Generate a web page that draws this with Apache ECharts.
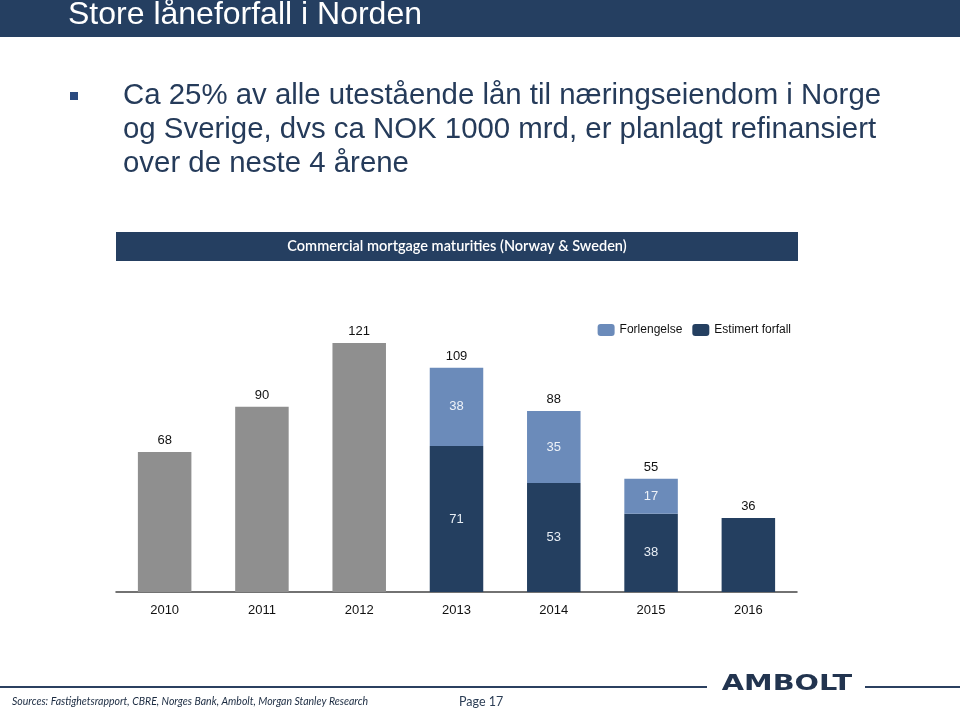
<!DOCTYPE html>
<html><head><meta charset="utf-8">
<script src="https://cdn.jsdelivr.net/npm/echarts@6/dist/echarts.min.js"></script>
<style>html,body{margin:0;padding:0;background:#fff}#c{width:960px;height:712px}</style>
</head><body><div id="c"></div>
<script>
const categories = ['2010','2011','2012','2013','2014','2015','2016'];
const historic = [68, 90, 121, null, null, null, null];
const estimertForfall = [null, null, null, 71, 53, 38, 36];
const forlengelse = [null, null, null, 38, 35, 17, null];
const totals = [68, 90, 121, 109, 88, 55, 36];

const navy = '#253f61';
const chart = echarts.init(document.getElementById('c'));
const F = 'Arial, "Liberation Sans", sans-serif';
chart.setOption({
  animation: false,
  backgroundColor: '#fff',
  legend: {
    top: 319, right: 164, itemWidth: 17, itemHeight: 12, itemGap: 10,
    textStyle: {fontFamily: F, fontSize: 12, color: '#111'},
    data: ['Forlengelse', 'Estimert forfall']
  },
  grid: {left: 116, right: 163, top: 304, bottom: 120},
  xAxis: {
    type: 'category', data: categories,
    axisLine: {lineStyle: {color: '#444', width: 1.5}},
    axisTick: {show: false},
    axisLabel: {fontFamily: F, fontSize: 13, color: '#111', margin: 12}
  },
  yAxis: {type: 'value', min: 0, max: 140, show: false, splitLine: {show: false}},
  series: [
    {name: 'Historisk', type: 'bar', stack: 's', barWidth: '55%', data: historic,
     itemStyle: {color: '#8f8f8f'}},
    {name: 'Estimert forfall', type: 'bar', stack: 's', data: estimertForfall,
     itemStyle: {color: '#243f60'},
     label: {show: true, position: 'inside', fontFamily: F, fontSize: 13, color: '#e8eef5',
       formatter: p => (p.dataIndex === 6 ? '' : p.value)}},
    {name: 'Forlengelse', type: 'bar', stack: 's', data: forlengelse,
     itemStyle: {color: '#6b8bba'},
     label: {show: true, position: 'inside', fontFamily: F, fontSize: 13, color: '#eef2f8'}},
    {name: 'Total', type: 'bar', stack: 's', data: totals.map(() => 0),
     itemStyle: {color: 'transparent'},
     label: {show: true, position: 'top', distance: 5, fontFamily: F, fontSize: 13, color: '#111',
       formatter: p => totals[p.dataIndex]}}
  ],
  graphic: [
    {type: 'rect', left: 0, top: 0, shape: {width: 960, height: 37}, style: {fill: navy}},
    {type: 'text', x: 68, y: 15, style: {text: 'Store låneforfall i Norden', fill: '#fff', font: '32px Arial, "Liberation Sans", sans-serif', verticalAlign: 'middle'}},
    {type: 'rect', left: 70, top: 92, shape: {width: 8, height: 8}, style: {fill: '#2a4a7f'}},
    {type: 'text', x: 123, y: 79, style: {text: 'Ca 25% av alle utestående lån til næringseiendom i Norge\nog Sverige, dvs ca NOK 1000 mrd, er planlagt refinansiert\nover de neste 4 årene', fill: '#253b5a', font: '29.4px Arial, "Liberation Sans", sans-serif', lineHeight: 34}},
    {type: 'rect', left: 116, top: 232, shape: {width: 682, height: 29}, style: {fill: navy}},
    {type: 'text', x: 457, y: 246, style: {text: 'Commercial mortgage maturities (Norway & Sweden)', fill: '#fff', font: '600 14.5px Lato, "Open Sans", sans-serif', align: 'center', verticalAlign: 'middle'}},
    {type: 'rect', left: 0, top: 686, shape: {width: 707, height: 2}, style: {fill: '#2b4060'}},
    {type: 'rect', left: 865, top: 686, shape: {width: 95, height: 2}, style: {fill: '#2b4060'}},
    {type: 'group', x: 787, y: 685, scaleX: 1.37, scaleY: 1, children: [
      {type: 'text', x: 0, y: 0, style: {text: 'AMBOLT', fill: '#22344f', font: '600 21px "DejaVu Sans", sans-serif', align: 'center', verticalAlign: 'middle'}}
    ]},
    {type: 'text', x: 12, y: 702, style: {text: 'Sources: Fastighetsrapport, CBRE, Norges Bank, Ambolt, Morgan Stanley Research', fill: '#1a2a40', font: 'italic 10.5px Lato, "Open Sans", sans-serif', verticalAlign: 'middle'}},
    {type: 'text', x: 459, y: 702, style: {text: 'Page 17', fill: '#2b3d55', font: '12.5px Lato, "Open Sans", sans-serif', verticalAlign: 'middle'}}
  ]
});
</script></body></html>
